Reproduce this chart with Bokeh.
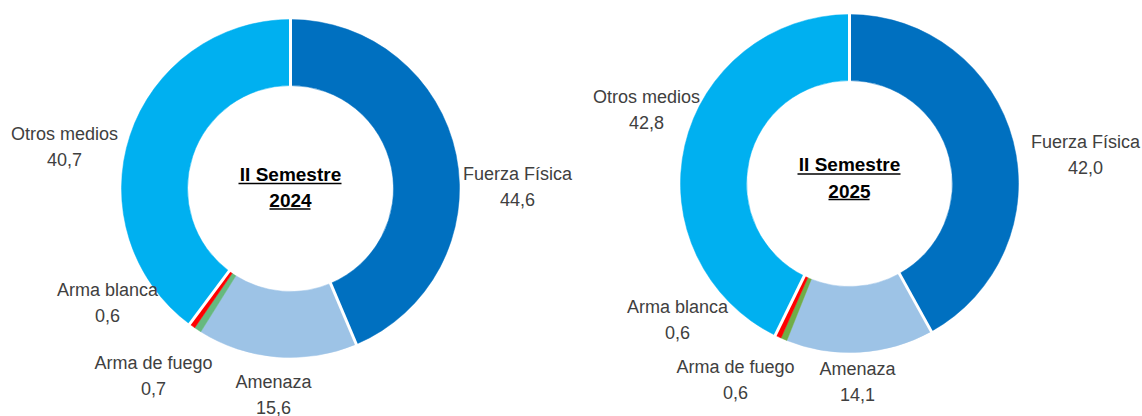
import math
from bokeh.plotting import figure
from bokeh.models import Range1d
from bokeh.core.properties import value
from bokeh.embed import file_html
from bokeh.resources import INLINE

# ---------------- data ----------------
categories = ["Fuerza Física", "Amenaza", "Arma de fuego", "Arma blanca", "Otros medios"]
values_2024 = [44.6, 15.6, 0.7, 0.6, 40.7]
values_2025 = [42.0, 14.1, 0.6, 0.6, 42.8]
period_titles = ["II Semestre\n2024", "II Semestre\n2025"]
colors_2024 = ["#0070C0", "#9DC3E6", "#66B97E", "#FF0000", "#00B0F0"]
colors_2025 = ["#0070C0", "#9DC3E6", "#70AD47", "#FF0000", "#00B0F0"]

# ---------------- layout (screen pixels, y down) ----------------
W, H = 1142, 416
centers = [(290, 188), (849, 183)]
title_dy = [-1, -5.5]
R_OUT, R_IN = 169, 103
FONT = "Liberation Sans"
# label block centres, as offsets from each donut centre
label_offsets = [
    [(227, -2), (-17, 206), (-137, 187), (-183, 114), (-226, -42)],
    [(236, -29), (8, 198), (-114, 196), (-172, 136), (-203, -74)],
]


def sy(y):
    return H - y


p = figure(width=W, height=H, output_backend="svg", toolbar_location=None,
           x_range=Range1d(0, W), y_range=Range1d(0, H),
           min_border=0, outline_line_color=None)
p.axis.visible = False
p.grid.visible = False
p.background_fill_color = "white"
p.border_fill_color = "white"

for k, (vals, cols) in enumerate([(values_2024, colors_2024), (values_2025, colors_2025)]):
    cx, cy = centers[k]
    total = sum(vals)
    cum = 0.0
    starts, ends = [], []
    for v in vals:
        a0 = math.pi / 2 - 2 * math.pi * cum / total
        cum += v
        a1 = math.pi / 2 - 2 * math.pi * cum / total
        starts.append(a1)
        ends.append(a0)
    p.annular_wedge(x=[cx] * len(vals), y=[sy(cy)] * len(vals),
                    inner_radius=R_IN, outer_radius=R_OUT,
                    start_angle=starts, end_angle=ends,
                    fill_color=cols, line_color=cols, line_width=0.5)
    # white separators at the start of each large slice
    xs0, ys0, xs1, ys1 = [], [], [], []
    for v, a in zip(vals, ends):
        if v / total > 0.05:
            xs0.append(cx + (R_IN - 2) * math.cos(a))
            ys0.append(sy(cy) + (R_IN - 2) * math.sin(a))
            xs1.append(cx + (R_OUT + 2) * math.cos(a))
            ys1.append(sy(cy) + (R_OUT + 2) * math.sin(a))
    p.segment(x0=xs0, y0=ys0, x1=xs1, y1=ys1, line_color="white", line_width=3)

    # data labels
    lx = [cx + dx for dx, dy in label_offsets[k]]
    ly = [sy(cy + dy) for dx, dy in label_offsets[k]]
    texts = [f"{c}\n{v:.1f}".replace(".", ",") for c, v in zip(categories, vals)]
    p.text(x=lx, y=ly, text=texts, text_align="center", text_baseline="middle",
           text_font=value(FONT), text_font_size="18px", text_color="#404040",
           text_line_height=1.3)

    # centre title (bold, underlined)
    ty = cy + title_dy[k]
    p.text(x=[cx], y=[sy(ty)], text=[period_titles[k]], text_align="center",
           text_baseline="middle", text_font=value(FONT), text_font_size="19px",
           text_font_style="bold", text_color="black", text_line_height=1.25)
    p.segment(x0=[cx - 52, cx - 21], y0=[sy(ty - 4), sy(ty + 21.5)],
              x1=[cx + 51, cx + 20], y1=[sy(ty - 4), sy(ty + 21.5)],
              line_color="black", line_width=1.5)

open("out.html", "w").write(file_html(p, INLINE))
